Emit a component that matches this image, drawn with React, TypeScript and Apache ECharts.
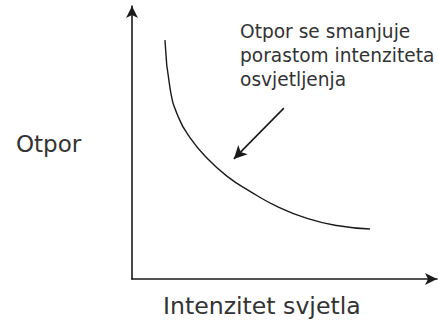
import React, { useEffect, useRef } from "react";
import * as echarts from "echarts";

const intensity = [1.08, 1.25, 1.52, 1.9, 2.45, 3.11, 3.87, 4.75, 5.74, 6.71, 7.8];
const resistance = [8.75, 6.96, 5.93, 5.18, 4.44, 3.77, 3.21, 2.66, 2.22, 1.96, 1.83];
const arrowFrom = [4.98, 6.26];
const arrowTo = [3.34, 4.4];
const yLabel = "Otpor";
const xLabel = "Intenzitet svjetla";
const note = "Otpor se smanjuje\nporastom intenziteta\nosvjetljenja";

export default function App() {
  const ref = useRef<HTMLDivElement>(null);
  useEffect(() => {
    const chart = echarts.init(ref.current!, null, { renderer: "svg" });
    const font = "DejaVu Sans";
    chart.setOption({
      animation: false,
      backgroundColor: "#fff",
      grid: { left: 132, right: 1, top: 6, bottom: 41 },
      xAxis: {
        type: "value",
        min: 0,
        max: 10,
        axisLine: {
          show: true,
          symbol: ["none", "arrow"],
          symbolSize: [9, 12],
          lineStyle: { color: "#1a1a1a", width: 1.6 },
        },
        axisTick: { show: false },
        axisLabel: { show: false },
        splitLine: { show: false },
      },
      yAxis: {
        type: "value",
        min: 0,
        max: 10,
        axisLine: {
          show: true,
          symbol: ["none", "arrow"],
          symbolSize: [9, 12],
          lineStyle: { color: "#1a1a1a", width: 1.6 },
        },
        axisTick: { show: false },
        axisLabel: { show: false },
        splitLine: { show: false },
      },
      series: [
        {
          type: "line",
          smooth: 0.5,
          showSymbol: false,
          data: intensity.map((x, i) => [x, resistance[i]]),
          lineStyle: { color: "#1a1a1a", width: 1.4 },
          markLine: {
            silent: true,
            symbol: ["none", "arrow"],
            symbolSize: [10, 13],
            label: { show: false },
            lineStyle: { color: "#1a1a1a", width: 1.6, type: "solid" },
            data: [[{ coord: arrowFrom }, { coord: arrowTo }]],
          },
        },
      ],
      graphic: [
        {
          type: "text",
          left: 16,
          top: 132,
          style: { text: yLabel, font: `23px ${font}`, fill: "#333" },
        },
        {
          type: "text",
          left: 163,
          top: 294,
          style: { text: xLabel, font: `23.6px ${font}`, fill: "#333" },
        },
        {
          type: "text",
          left: 240,
          top: 19,
          style: { text: note, font: `18.6px ${font}`, lineHeight: 24, fill: "#333" },
        },
      ],
    });
    return () => chart.dispose();
  }, []);
  return (
    <div
      ref={ref}
      style={{ position: "fixed", left: 0, top: 0, width: 438, height: 320 }}
    />
  );
}
